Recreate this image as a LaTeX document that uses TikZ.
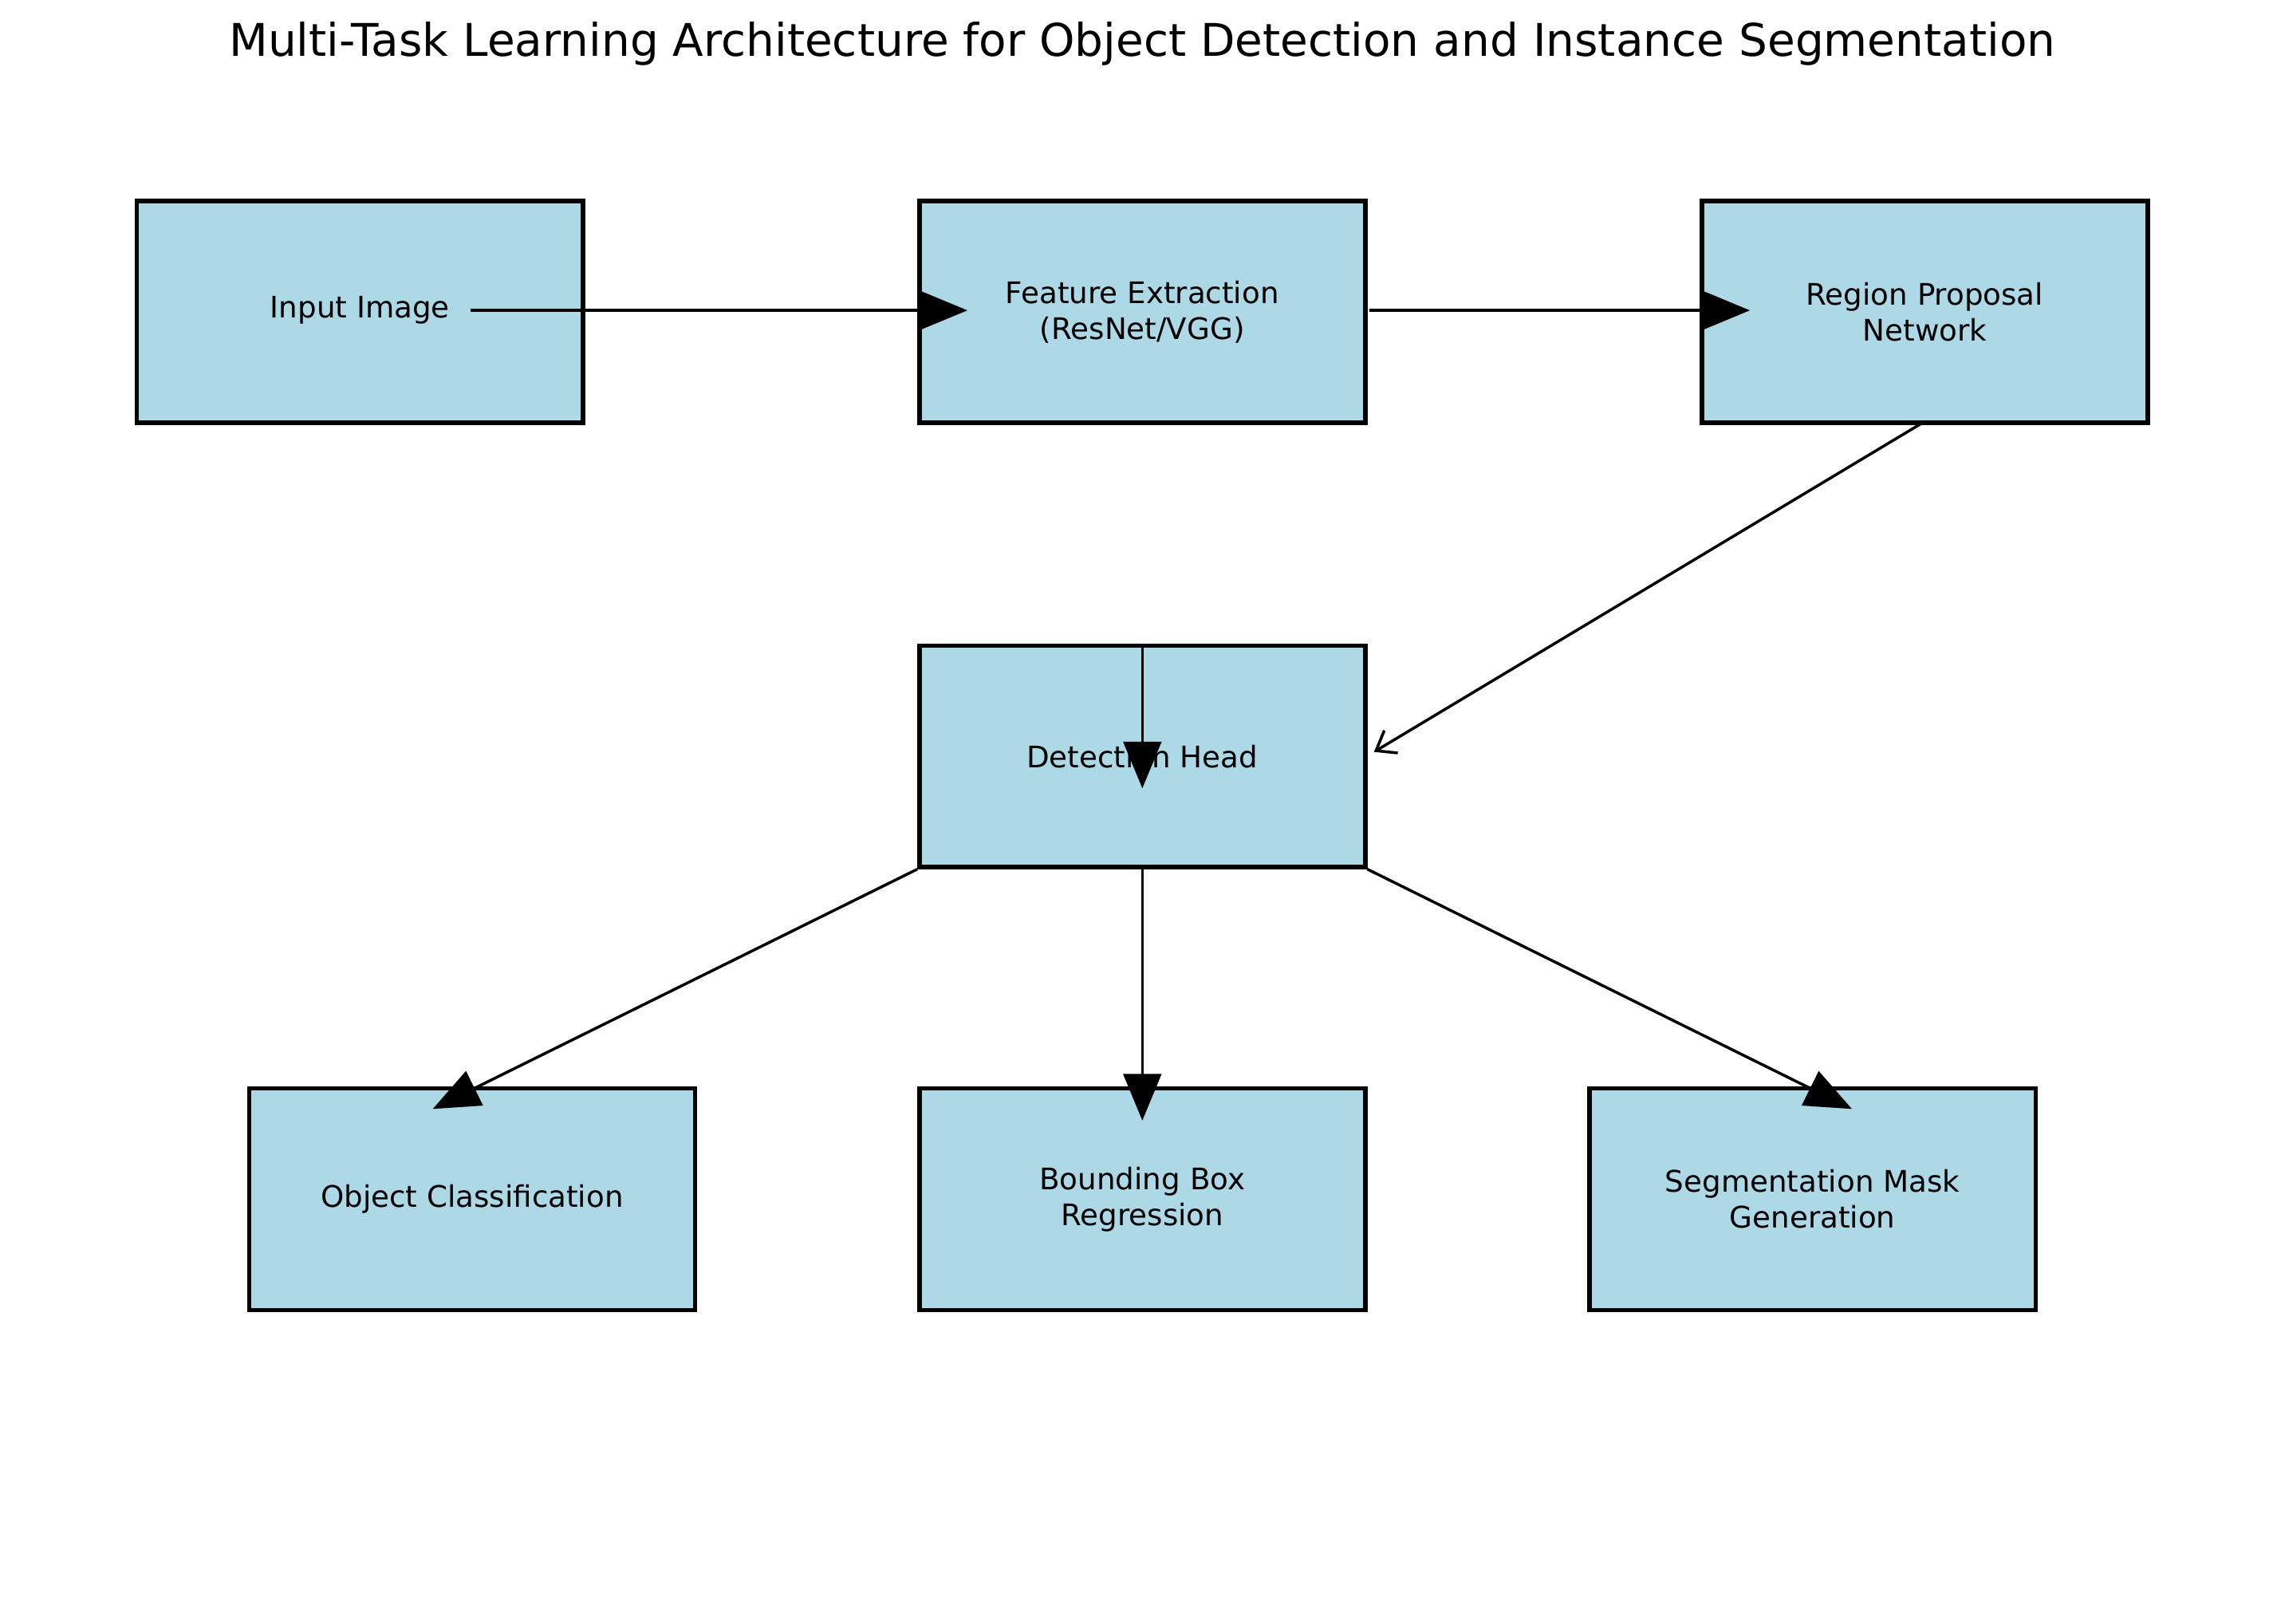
\documentclass[tikz,border=0pt]{standalone}
\usepackage{fontspec}
\setmainfont{DejaVu Sans}
\usetikzlibrary{arrows.meta}
\begin{document}
\begin{tikzpicture}[x=0.1mm,y=-0.1mm,
  box/.style={draw=black,fill=cyan!10!blue!5!white,fill={rgb,255:red,173;green,216;blue,230},line width=0.85pt,minimum width=30.6mm,minimum height=15.2mm,inner sep=0pt,align=center,font=\fontsize{5.8}{7}\selectfont},
  big/.style={line width=0.55pt,-{Triangle[length=3.2mm,width=2.6mm]}},
  small/.style={line width=0.55pt,-{Straight Barb[length=1.2mm,width=1.8mm]}}]
\useasboundingbox (0,0) rectangle (1560,1114);
\node[font=\fontsize{8.8}{10}\selectfont] (title) at (784,30) {Multi-Task Learning Architecture for Object Detection and Instance Segmentation};
\node[box] (inp) at (247,214) {};
\node[font=\fontsize{5.8}{7}\selectfont] (inpt) at (247,213) {Input Image};
\node[box] (fe) at (784,214) {Feature Extraction\\(ResNet/VGG)};
\node[box] (rpn) at (1321,214) {Region Proposal\\Network};
\node[box] (det) at (784,519) {Detection Head};
\node[box] (oc) at (324,823) {Object Classification};
\node[box] (bb) at (784,823) {Bounding Box\\Regression};
\node[box] (sm) at (1244,823) {Segmentation Mask\\Generation};
\coordinate (a1) at (323,213); \coordinate (a2) at (664,213);
\coordinate (b1) at (940,213); \coordinate (b2) at (1201,213);
\coordinate (c1) at (1318,291); \coordinate (c2) at (943,516);
\coordinate (d1) at (784,443); \coordinate (d2) at (784,541);
\coordinate (e2) at (297,761);
\coordinate (f2) at (784,769);
\coordinate (g2) at (1271,761);
\draw[big] (a1) -- (a2);
\draw[big] (b1) -- (b2);
\draw[small] (c1) -- (c2);
\draw[big] (d1) -- (d2);
\draw[big] (det.south west) -- (e2);
\draw[big] (det.south) -- (f2);
\draw[big] (det.south east) -- (g2);
\end{tikzpicture}
\end{document}
